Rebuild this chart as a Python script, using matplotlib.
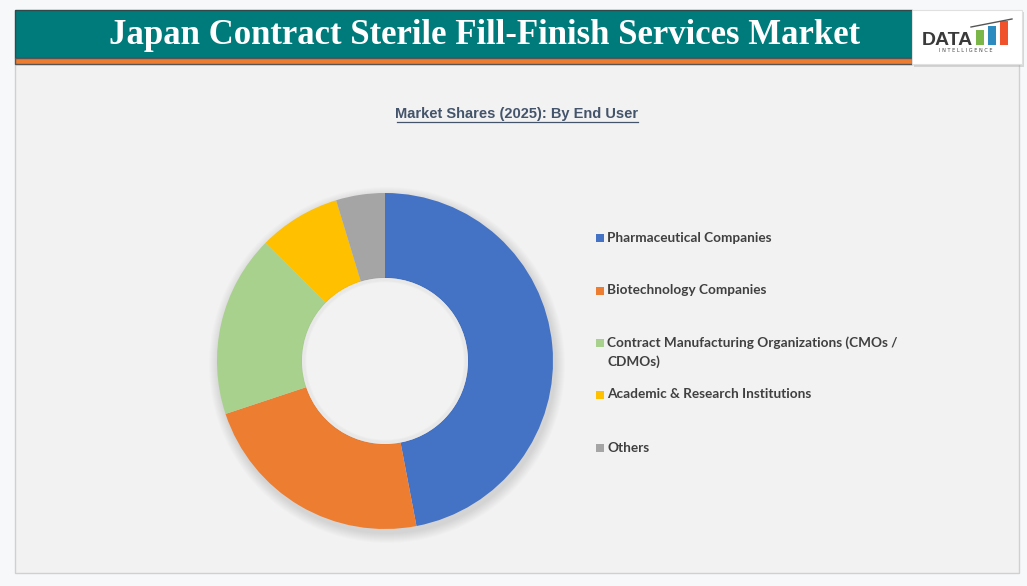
import textwrap
import matplotlib
matplotlib.use("Agg")
import matplotlib.pyplot as plt
from matplotlib.patches import Rectangle, Circle

# ---- data ----
title = "Japan Contract Sterile Fill-Finish Services Market"
subtitle = "Market Shares (2025): By End User"
categories = [
    "Pharmaceutical Companies",
    "Biotechnology Companies",
    "Contract Manufacturing Organizations (CMOs / CDMOs)",
    "Academic & Research Institutions",
    "Others",
]
shares = [47.0, 22.9, 17.5, 7.9, 4.7]
colors = ["#4472c4", "#ed7d31", "#a9d18e", "#ffc000", "#a5a5a5"]

W, H = 1027, 586
fig = plt.figure(figsize=(W / 100, H / 100), dpi=100)
fig.patch.set_facecolor("#f7f8fa")

# background / decoration axes in pixel coordinates
bg = fig.add_axes([0, 0, 1, 1])
bg.set_xlim(0, W)
bg.set_ylim(H, 0)
bg.axis("off")

# main panel
bg.add_patch(Rectangle((15, 64), 1004, 509, facecolor="#f2f2f2",
                       edgecolor="#d0d0d0", linewidth=1, zorder=1))
# header
bg.add_patch(Rectangle((15, 10), 897, 48, facecolor="#007b7b",
                       edgecolor="#2e4a4a", linewidth=1, zorder=2))
bg.add_patch(Rectangle((15, 58), 897, 6, facecolor="#ed7d31",
                       edgecolor="#555555", linewidth=1, zorder=2))
bg.text(485, 35, title, color="white", fontsize=25, fontweight="bold",
        family="Liberation Serif", ha="center", va="center", zorder=3)

# logo box with shadow
bg.add_patch(Rectangle((914, 12), 110, 55, facecolor="#9a9a9a", alpha=0.35,
                       edgecolor="none", zorder=2))
bg.add_patch(Rectangle((912, 10), 110, 54, facecolor="white",
                       edgecolor="#e0e0e0", linewidth=0.8, zorder=3))
bg.text(922, 45, "DATA", color="#3a3a3a", fontsize=14, fontweight="bold",
        family="Liberation Sans", ha="left", va="baseline", zorder=4)
for x0, h, c in [(976, 15, "#7ab648"), (988, 19, "#2e8bc0"), (1000, 24, "#f0522b")]:
    bg.add_patch(Rectangle((x0, 45 - h), 8, h, facecolor=c, edgecolor="none", zorder=4))
bg.plot([971, 1012], [27, 19], color="#555555", lw=1, zorder=4)
bg.text(966, 51, "I N T E L L I G E N C E", color="#444444", fontsize=3.6,
        ha="center", va="center", zorder=4)

# subtitle
bg.text(517, 114, subtitle, color="#44546a", fontsize=10.5, fontweight="bold",
        family="Liberation Sans", ha="center", va="center", zorder=3)
bg.plot([397, 638], [122, 122], color="#44546a", lw=0.9, zorder=3)

# donut shadow
cx, cy, R = 385, 361, 168
for i in range(10):
    bg.add_patch(Circle((cx + 2, cy + 4), R + 10 - i, facecolor="#000000",
                        alpha=0.012, edgecolor="none", zorder=2))

# donut
pie_ax = fig.add_axes([(cx - R) / W, (H - cy - R) / H, 2 * R / W, 2 * R / H])
pie_ax.pie(shares, colors=colors, startangle=90, counterclock=False,
           radius=1.0, wedgeprops=dict(width=0.506, edgecolor="none"))
pie_ax.add_patch(Circle((0, 0), 0.494, facecolor="#f2f2f2", edgecolor="none", zorder=5))
for i in range(5):
    pie_ax.add_patch(Circle((0, 0), 0.494 - 0.005 * i, facecolor="none",
                            edgecolor="#000000", alpha=0.015, lw=1.5, zorder=6))
pie_ax.set_xlim(-1, 1)
pie_ax.set_ylim(-1, 1)
pie_ax.set_aspect("auto")
pie_ax.axis("off")
pie_ax.patch.set_alpha(0)

# legend
ys = [238, 291, 343, 395, 448]
for lab, c, y in zip(categories, colors, ys):
    bg.add_patch(Rectangle((596, y - 4), 8, 8, facecolor=c, edgecolor="none", zorder=4))
    bg.text(607, y - 6.5, textwrap.fill(lab, 47), color="#404040", fontsize=9.8,
            fontweight="bold", family="Lato", ha="left", va="top",
            linespacing=1.55, zorder=4)

fig.savefig("out.png", dpi=100, facecolor=fig.get_facecolor())
